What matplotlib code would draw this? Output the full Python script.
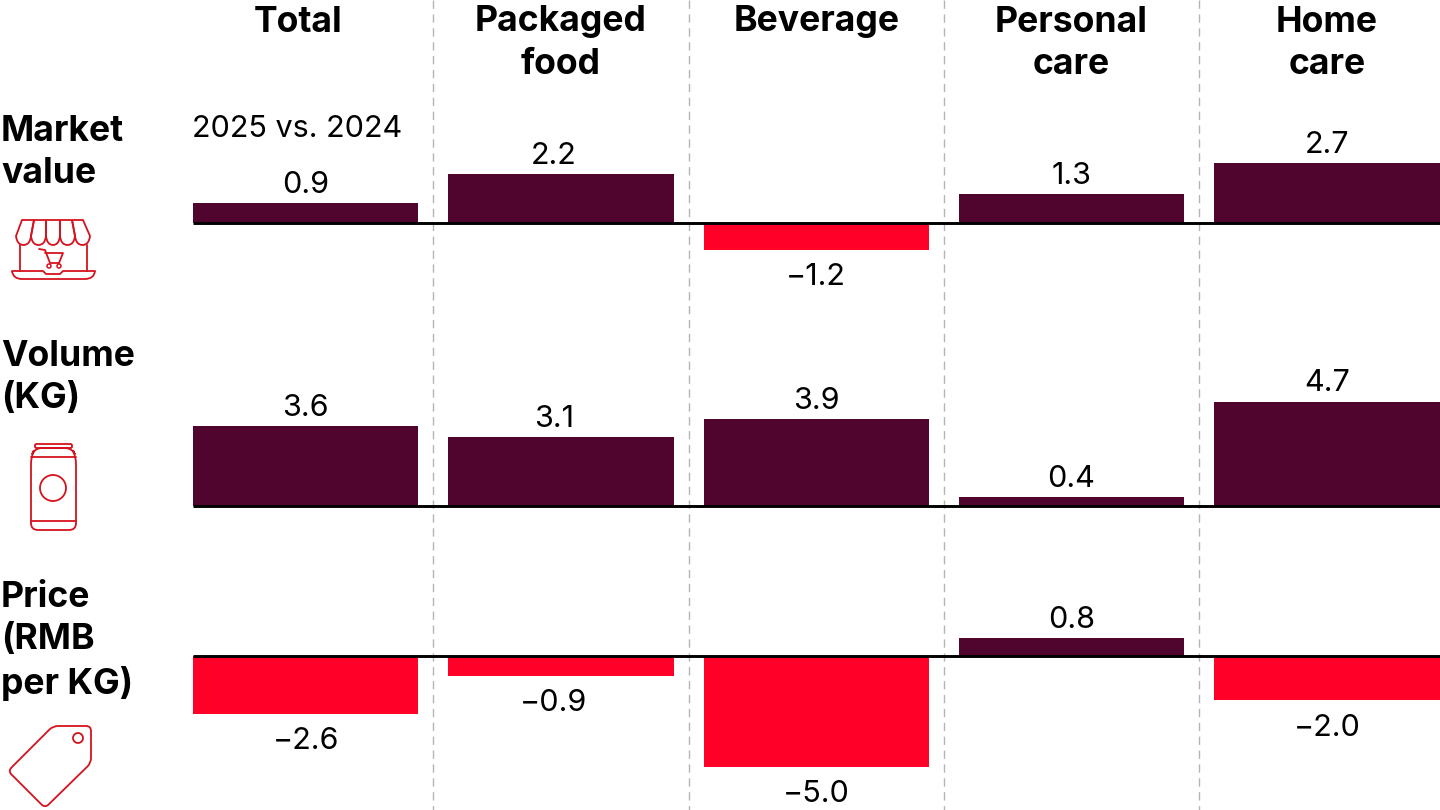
import matplotlib
matplotlib.use("Agg")
import matplotlib.pyplot as plt
from matplotlib.patches import Circle, PathPatch
from matplotlib.path import Path

plt.rcParams['font.family'] = ['Inter', 'DejaVu Sans']

categories = ["Total", "Packaged\nfood", "Beverage", "Personal\ncare", "Home\ncare"]
market_value = [0.9, 2.2, -1.2, 1.3, 2.7]
volume = [3.6, 3.1, 3.9, 0.4, 4.7]
price = [-2.6, -0.9, -5.0, 0.8, -2.0]
row_labels = ["Market\nvalue", "Volume\n(KG)", "Price\n(RMB\nper KG)"]
period_note = "2025 vs. 2024"

W, H = 1440, 810
DARK = "#4f052e"
RED = "#ff0028"
ICON = "#d5121e"
PX_PER_UNIT = 22.2
STEP = 255.3
BAR_W = 225.3
X0 = 193 - 0.5 * (STEP - BAR_W)  # left edge of first category slot

fig = plt.figure(figsize=(W / 100, H / 100), dpi=100)

# full figure overlay in pixels, for dividers, headers and icons
bg = fig.add_axes([0, 0, 1, 1])
bg.set_xlim(0, W)
bg.set_ylim(H, 0)
bg.axis('off')


def px(x):
    return X0 + STEP * x


# dashed dividers
for i in range(1, 5):
    bg.plot([px(i)] * 2, [0, H], color="#b5b5b5", lw=1, dashes=(6, 4), zorder=0)

# column headers, Total sits a little left of its column in the original
header_shift = [-8, 0, 0, 0, 0]
for i, c in enumerate(categories):
    bg.text(px(i + 0.5) + header_shift[i], 5.5, c, ha='center', va='top', fontsize=25.6,
            fontweight='bold', color='black', linespacing=1.35)

# row labels
for y, lab in zip([115, 340, 581], row_labels):
    bg.text(1, y, lab, ha='left', va='top', fontsize=25.6, fontweight='bold',
            color='black', linespacing=1.35)

bg.text(192, 129, period_note, ha='left', va='center', fontsize=22, color='black')

# value labels in the packaged food column sit left of the bar centre
label_shift = [0, -5, 0, 0, 0]


def draw_row(values, baseline, top, bottom):
    ax = fig.add_axes([X0 / W, 1 - bottom / H, (W - X0) / W, (bottom - top) / H])
    ax.patch.set_alpha(0)
    ax.set_xlim(0, (W - X0) / STEP)
    ax.set_ylim((baseline - bottom) / PX_PER_UNIT, (baseline - top) / PX_PER_UNIT)
    colors = [DARK if v > 0 else RED for v in values]
    bars = ax.bar([i + 0.5 for i in range(5)], values, width=BAR_W / STEP, color=colors, zorder=2)
    for i, (b, v) in enumerate(zip(bars, values)):
        txt = f"{v:.1f}".replace("-", "\u2212")
        off = 3 if v > 0 else -9.5
        ax.annotate(txt, (b.get_x() + b.get_width() / 2, v), xytext=(label_shift[i], off),
                    textcoords='offset points', ha='center',
                    va='bottom' if v > 0 else 'top', fontsize=22, color='black')
    ax.plot([(193 - X0) / STEP, (W - X0) / STEP], [0, 0], color='black', lw=2.1, zorder=3,
            solid_capstyle='butt')
    ax.axis('off')


draw_row(market_value, 223, 100, 320)
draw_row(volume, 506, 340, 560)
draw_row(price, 656, 580, 810)


def rounded(points, r):
    # closed polygon with rounded corners
    verts, codes = [], []
    n = len(points)
    for i in range(n):
        p = points[i]
        a = points[i - 1]
        b = points[(i + 1) % n]
        da = ((a[0] - p[0]) ** 2 + (a[1] - p[1]) ** 2) ** 0.5
        db = ((b[0] - p[0]) ** 2 + (b[1] - p[1]) ** 2) ** 0.5
        start = (p[0] + (a[0] - p[0]) * r / da, p[1] + (a[1] - p[1]) * r / da)
        end = (p[0] + (b[0] - p[0]) * r / db, p[1] + (b[1] - p[1]) * r / db)
        verts += [start, p, end]
        codes += [Path.MOVETO if i == 0 else Path.LINETO, Path.CURVE3, Path.CURVE3]
    verts.append(verts[0])
    codes.append(Path.CLOSEPOLY)
    return Path(verts, codes)


def icon_line(xs, ys, lw=1.3):
    bg.plot(xs, ys, color=ICON, lw=lw, solid_capstyle='round', solid_joinstyle='round')


def icon_patch(path, lw=1.3):
    bg.add_patch(PathPatch(path, fill=False, edgecolor=ICON, lw=lw))


def icon_circle(x, y, r, lw=1.3):
    bg.add_patch(Circle((x, y), r, fill=False, edgecolor=ICON, lw=lw))


# store icon
awning_x = [16, 31, 46, 60, 75, 90]
awning_top = [22, 34, 46, 60, 72, 83]
for a, b, ta, tb in zip(awning_x[:-1], awning_x[1:], awning_top[:-1], awning_top[1:]):
    v = [(ta, 220), (a, 236), (a + 1, 245), ((a + b) / 2, 245), (b - 1, 245), (b, 236), (tb, 220)]
    c = [Path.MOVETO, Path.LINETO, Path.CURVE3, Path.CURVE3, Path.CURVE3, Path.CURVE3, Path.LINETO]
    icon_patch(Path(v, c))
icon_line([22, 83], [220, 220])
icon_line([20, 20], [245, 271])
icon_line([87, 87], [245, 271])
icon_line([12, 43, 46, 60, 63, 95], [271, 271, 274, 274, 271, 271])
icon_patch(Path([(12, 271), (13, 279), (22, 279), (85, 279), (94, 279), (95, 271)],
                [Path.MOVETO, Path.CURVE3, Path.CURVE3, Path.LINETO, Path.CURVE3, Path.CURVE3]))
icon_line([39, 45, 50, 59], [249, 250, 263, 263])
icon_line([45, 63, 59], [253, 253, 263])
icon_circle(49, 266, 2, 1.1)
icon_circle(59, 266, 2, 1.1)

# can icon
icon_patch(rounded([(35, 444), (72, 444), (72, 448), (35, 448)], 1.5))
icon_patch(rounded([(35, 448), (72, 448), (76, 457), (76, 530), (31, 530), (31, 457)], 7))
icon_line([31, 76], [457, 457])
icon_line([31, 76], [521, 521])
icon_circle(53, 488, 13)

# tag icon
icon_patch(rounded([(53, 726), (91, 726), (91, 763), (45, 808), (8, 771)], 5))
icon_circle(78, 738, 5)

fig.savefig("out.png", dpi=100)
